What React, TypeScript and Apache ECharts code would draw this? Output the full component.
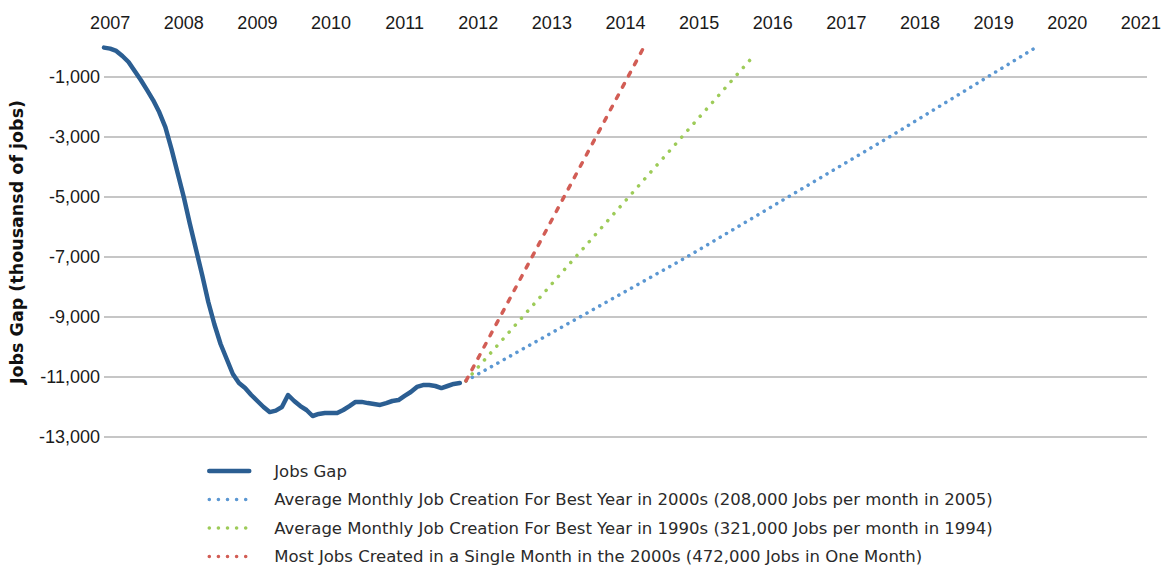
import React, { useEffect, useRef } from "react";
import * as echarts from "echarts";

// Month categories from Dec 2006 (index 0) onward
const startYear = 2006;
const startMonth = 12;
const monthCount = 171;
const months: string[] = [];
for (let k = 0; k < monthCount; k++) {
  const m0 = startMonth - 1 + k;
  const y = startYear + Math.floor(m0 / 12);
  const m = (m0 % 12) + 1;
  months.push(`${y}-${m < 10 ? "0" + m : m}`);
}

// Jobs gap, thousands of jobs, Dec 2006 .. Oct 2011
const jobsGap: number[] = [
  -20, -55, -130, -300, -500, -800, -1100, -1430, -1770, -2170,
  -2670, -3400, -4200, -5000, -5900, -6750, -7600, -8500, -9250, -9900,
  -10400, -10900, -11200, -11370, -11600, -11800, -12000, -12170, -12120, -12000,
  -11600, -11800, -11970, -12100, -12300, -12230, -12200, -12200, -12200, -12100,
  -11970, -11830, -11830, -11870, -11900, -11930, -11870, -11800, -11770, -11630,
  -11500, -11330, -11270, -11270, -11300, -11370, -11300, -11230, -11200,
];

// Projections: [month index, thousands of jobs]
const best2000s: [number, number][] = [
  [59, -11130], [95, -7000], [128, -3000], [144, -1000], [152, 0],
];
const best1990s: [number, number][] = [
  [59, -11130], [106, -270],
];
const bestMonth2000s: [number, number][] = [
  [59, -11130], [88, 0],
];

const seriesNames = [
  "Jobs Gap",
  "Average Monthly Job Creation For Best Year in 2000s (208,000 Jobs per month in 2005)",
  "Average Monthly Job Creation For Best Year in 1990s (321,000 Jobs per month in 1994)",
  "Most Jobs Created in a Single Month in the 2000s (472,000 Jobs in One Month)",
];

const yName = "Jobs Gap (thousansd of jobs)";

const colors = ["#2b5e92", "#5b97d2", "#9dcb58", "#d25d55"];

export default function App() {
  const ref = useRef<HTMLDivElement>(null);
  useEffect(() => {
    if (!ref.current) return;
    const chart = echarts.init(ref.current, undefined, { renderer: "svg" });
    const hidden = { itemStyle: { opacity: 0, color: "rgba(0,0,0,0)", borderWidth: 0 } };
    const dotLegend = (c: string) => ({
      ...hidden,
      lineStyle: { color: c, width: 3.5, type: [0.1, 9], cap: "round" },
    });
    chart.setOption({
      animation: false,
      grid: { left: 104, right: 17, top: 47, bottom: 132 },
      legend: {
        orient: "vertical",
        left: 207,
        top: 462,
        height: 110,
        padding: 0,
        itemWidth: 40,
        itemHeight: 14,
        itemGap: 10.5,
        textStyle: {
          fontFamily: "DejaVu Sans",
          fontSize: 16.5,
          lineHeight: 18,
          color: "#2a2a2a",
          padding: [0, 0, 0, 20],
        },
        data: [
          { name: seriesNames[0], ...hidden, lineStyle: { color: colors[0], width: 4.5, cap: "round" } },
          { name: seriesNames[1], ...dotLegend(colors[1]) },
          { name: seriesNames[2], ...dotLegend(colors[2]) },
          { name: seriesNames[3], ...dotLegend(colors[3]) },
        ],
      },
      xAxis: {
        type: "category",
        position: "top",
        data: months,
        boundaryGap: false,
        axisLine: { show: false },
        axisTick: { show: false },
        splitLine: { show: false },
        axisLabel: {
          interval: (_i: number, v: string) => v.endsWith("-01"),
          formatter: (v: string) => v.slice(0, 4),
          fontFamily: "Liberation Sans",
          fontSize: 18,
          color: "#1a1a1a",
          margin: 15,
        },
      },
      yAxis: {
        type: "value",
        min: -13000,
        max: 0,
        interval: 1000,
        name: yName,
        nameLocation: "middle",
        nameGap: 78,
        nameTextStyle: {
          fontFamily: "DejaVu Sans",
          fontWeight: "bold",
          fontSize: 17.5,
          color: "#111",
        },
        axisLine: { show: false },
        axisTick: { show: false },
        axisLabel: {
          fontFamily: "Liberation Sans",
          fontSize: 18,
          color: "#1a1a1a",
          margin: 4,
          formatter: (v: number) => {
            const k = Math.round(v / 1000);
            if (Math.abs(k) % 2 !== 1) return "";
            return v.toLocaleString("en-US");
          },
        },
        splitLine: {
          show: true,
          lineStyle: { color: ["#b3b3b3", "rgba(0,0,0,0)"], width: 1.5 },
        },
      },
      series: [
        {
          name: seriesNames[0],
          type: "line",
          data: jobsGap,
          symbol: "none",
          showSymbol: false,
          lineStyle: { color: colors[0], width: 4.5, cap: "round", join: "round" },
          itemStyle: { color: colors[0] },
          z: 5,
        },
        {
          name: seriesNames[1],
          type: "line",
          data: best2000s,
          symbol: "none",
          showSymbol: false,
          lineStyle: { color: colors[1], width: 3.5, type: [0.1, 7.2], cap: "round" },
          itemStyle: { color: colors[1] },
          z: 3,
        },
        {
          name: seriesNames[2],
          type: "line",
          data: best1990s,
          symbol: "none",
          showSymbol: false,
          lineStyle: { color: colors[2], width: 3.5, type: [0.1, 9.2], cap: "round" },
          itemStyle: { color: colors[2] },
          z: 3,
        },
        {
          name: seriesNames[3],
          type: "line",
          data: bestMonth2000s,
          symbol: "none",
          showSymbol: false,
          lineStyle: { color: colors[3], width: 3.5, type: [4, 8.8], cap: "round" },
          itemStyle: { color: colors[3] },
          z: 3,
        },
      ],
    });
    return () => chart.dispose();
  }, []);
  return (
    <div
      ref={ref}
      style={{ position: "absolute", left: 0, top: 0, width: 1164, height: 569 }}
    />
  );
}
